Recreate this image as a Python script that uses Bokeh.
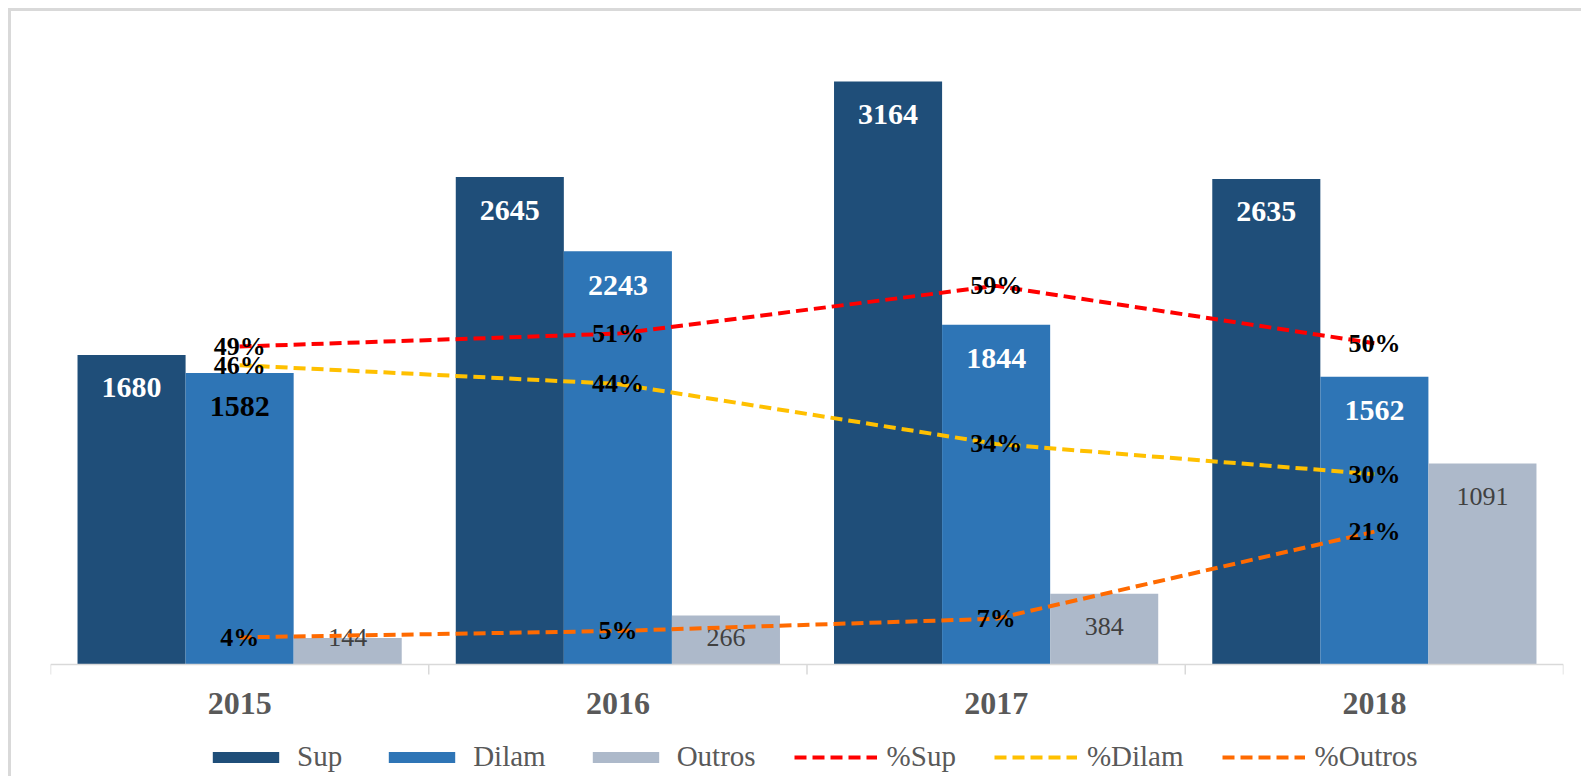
from bokeh.plotting import figure
from bokeh.models import Range1d, Legend, LegendItem, Span
from bokeh.core.properties import value
from bokeh.embed import file_html
from bokeh.resources import INLINE

# ---------------- data ----------------
years = ["2015", "2016", "2017", "2018"]
sup = [1680, 2645, 3164, 2635]
dilam = [1582, 2243, 1844, 1562]
outros = [144, 266, 384, 1091]
pct_sup = [49.3, 51.3, 58.7, 49.8]
pct_dilam = [46.4, 43.5, 34.2, 29.5]
pct_outros = [4.2, 5.2, 7.1, 20.6]
pct_sup_lbl = ["49%", "51%", "59%", "50%"]
pct_dilam_lbl = ["46%", "44%", "34%", "30%"]
pct_outros_lbl = ["4%", "5%", "7%", "21%"]

# ---------------- style ----------------
C_SUP, C_DIL, C_OUT = "#1F4E79", "#2E75B6", "#ADB9CA"
C_PSUP, C_PDIL, C_POUT = "#FF0000", "#FFC000", "#FF6A00"
SERIF = "Liberation Serif"
AXIS_GREY = "#D9D9D9"

Y_MAX = 3500
PCT_MAX = 100
PLOT_H = 645          # height of the value area (0 .. Y_MAX)
BOTTOM_H = 112        # space below the zero line (axis labels + legend)
FRAME_W = 1513
px_per_unit = PLOT_H / Y_MAX
px_per_pct = PLOT_H / PCT_MAX

n = len(years)
centers = [i + 0.5 for i in range(n)]
bw = 0.2857

p = figure(frame_width=FRAME_W, frame_height=PLOT_H + BOTTOM_H,
           output_backend="svg", toolbar_location=None,
           x_range=Range1d(0, n),
           y_range=Range1d(-BOTTOM_H / px_per_unit, Y_MAX),
           x_axis_location=None, y_axis_location=None,
           min_border_left=39, min_border_right=18, min_border_top=8,
           min_border_bottom=0)
p.extra_y_ranges = {"pct": Range1d(-BOTTOM_H / px_per_pct, PCT_MAX)}
p.outline_line_color = None
p.xgrid.visible = False
p.ygrid.visible = False
p.background_fill_color = "white"
p.border_fill_color = "white"
p.styles = {"border-top": "3px solid #D9D9D9", "border-left": "3px solid #D9D9D9",
            "margin-left": "8px", "margin-top": "8px"}

# ---------------- category axis ----------------
p.add_layout(Span(location=0, dimension="width", line_color=AXIS_GREY,
                  line_width=1.5))
bounds = [float(i) for i in range(n + 1)]
p.segment(x0=bounds, y0=[0] * len(bounds), x1=bounds,
          y1=[-10 / px_per_unit] * len(bounds), line_color=AXIS_GREY,
          line_width=1.5)
p.text(x=centers, y=[0] * n, text=years, text_align="center",
       text_baseline="middle", y_offset=39, text_color="#595959",
       text_font=value(SERIF), text_font_size="32px", text_font_style="bold")

# ---------------- bars ----------------
x_sup = [c - bw for c in centers]
x_dil = centers
x_out = [c + bw for c in centers]

r_sup = p.vbar(x=x_sup, top=sup, width=bw, fill_color=C_SUP, line_color=None)
r_dil = p.vbar(x=x_dil, top=dilam, width=bw, fill_color=C_DIL, line_color=None)
r_out = p.vbar(x=x_out, top=outros, width=bw, fill_color=C_OUT, line_color=None)

# bar labels
p.text(x=x_sup, y=sup, text=[str(v) for v in sup], text_align="center",
       text_baseline="middle", y_offset=33, text_color="white",
       text_font=value(SERIF), text_font_size="30px", text_font_style="bold")
dil_colors = ["black", "white", "white", "white"]
p.text(x=x_dil, y=dilam, text=[str(v) for v in dilam], text_align="center",
       text_baseline="middle", y_offset=34, text_color=dil_colors,
       text_font=value(SERIF), text_font_size="30px", text_font_style="bold")
out_label_y = [max(v - 33 / px_per_unit, 27 / px_per_unit) for v in outros]
p.text(x=x_out, y=out_label_y, text=[str(v) for v in outros], text_align="center",
       text_baseline="middle", text_color="#404040",
       text_font=value(SERIF), text_font_size="26px")

# ---------------- percentage lines ----------------
DASH = "12 6"
r_psup = p.line(centers, pct_sup, y_range_name="pct", line_color=C_PSUP,
                line_width=4, line_dash=DASH)
r_pdil = p.line(centers, pct_dilam, y_range_name="pct", line_color=C_PDIL,
                line_width=4, line_dash=DASH)
r_pout = p.line(centers, pct_outros, y_range_name="pct", line_color=C_POUT,
                line_width=4, line_dash=DASH)

for vals, lbls in ((pct_sup, pct_sup_lbl), (pct_dilam, pct_dilam_lbl),
                   (pct_outros, pct_outros_lbl)):
    p.text(x=centers, y=vals, text=lbls, y_range_name="pct", text_align="center",
           text_baseline="middle", text_color="black", text_font=value(SERIF),
           text_font_size="26px", text_font_style="bold")

# ---------------- legend ----------------
legend = Legend(items=[
    LegendItem(label="Sup", renderers=[r_sup]),
    LegendItem(label="Dilam", renderers=[r_dil]),
    LegendItem(label="Outros", renderers=[r_out]),
    LegendItem(label="%Sup", renderers=[r_psup]),
    LegendItem(label="%Dilam", renderers=[r_pdil]),
    LegendItem(label="%Outros", renderers=[r_pout]),
], orientation="horizontal", location=(154, 3))
legend.glyph_width = 83
legend.glyph_height = 14
legend.label_standoff = 10
legend.spacing = 38
legend.padding = 0
legend.margin = 0
legend.border_line_alpha = 0
legend.background_fill_alpha = 0
legend.label_text_font = SERIF
legend.label_text_font_size = "29px"
legend.label_text_color = "#595959"
p.add_layout(legend, "center")

open("out.html", "w").write(file_html(p, INLINE))
